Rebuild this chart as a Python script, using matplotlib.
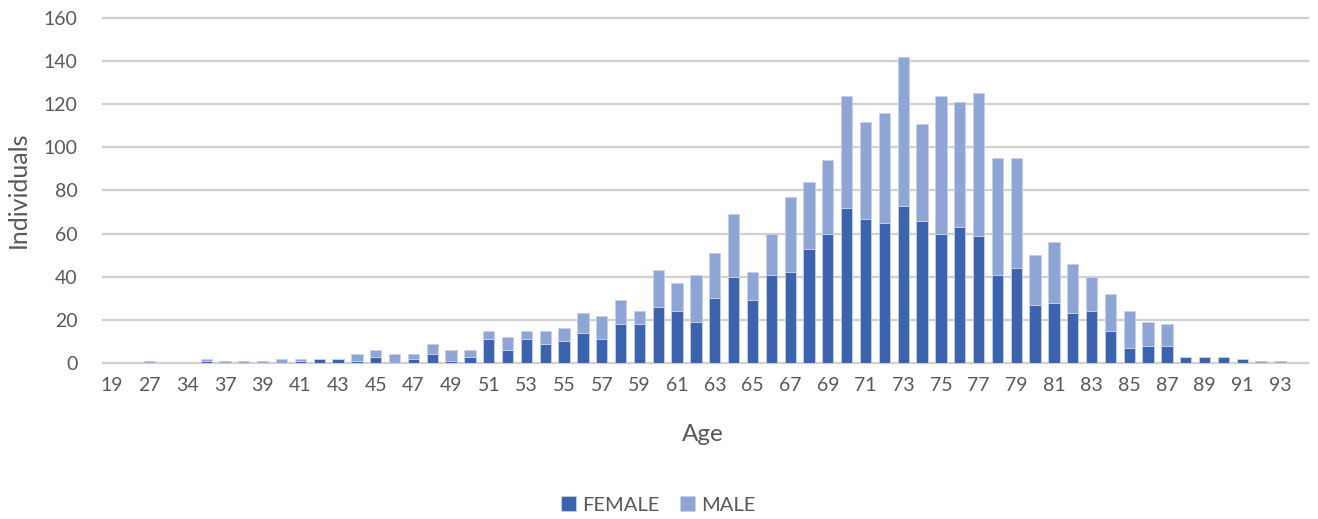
import matplotlib
matplotlib.use("Agg")
import matplotlib.pyplot as plt
import numpy as np

# Age categories (only every other one is labelled on the axis)
ages = [19, 24, 27, 32, 34, 36, 37, 38, 39, 40,
        41, 42, 43, 44, 45, 46, 47, 48, 49, 50,
        51, 52, 53, 54, 55, 56, 57, 58, 59, 60,
        61, 62, 63, 64, 65, 66, 67, 68, 69, 70,
        71, 72, 73, 74, 75, 76, 77, 78, 79, 80,
        81, 82, 83, 84, 85, 86, 87, 88, 89, 90,
        91, 92, 93, 94]

female = [0, 0, 0, 0, 0, 1, 0, 0, 0, 0,
          1, 2, 2, 1, 3, 0, 2, 4, 1, 3,
          11, 6, 11, 9, 10, 14, 11, 18, 18, 26,
          24, 19, 30, 40, 29, 41, 42, 53, 60, 72,
          67, 65, 73, 66, 60, 63, 59, 41, 44, 27,
          28, 23, 24, 15, 7, 8, 8, 3, 3, 3,
          2, 0, 0, 0]

male = [0, 0, 1, 0, 0, 1, 1, 1, 1, 2,
        1, 0, 0, 3, 3, 4, 2, 5, 5, 3,
        4, 6, 4, 6, 6, 9, 11, 11, 6, 17,
        13, 22, 21, 29, 13, 19, 35, 31, 34, 52,
        45, 51, 69, 45, 64, 58, 66, 54, 51, 23,
        28, 23, 16, 17, 17, 11, 10, 0, 0, 0,
        0, 1, 1, 0]

FEMALE_COLOR = "#3C64AE"
MALE_COLOR = "#8EA5D5"
TEXT_COLOR = "#595959"
GRID_COLOR = "#D0D0D0"
EDGE_COLOR = "#C9D1E3"

plt.rcParams["font.family"] = ["Lato", "DejaVu Sans"]

fig = plt.figure(figsize=(13.18, 5.19), dpi=100)
ax = fig.add_axes([0.0778, 0.3006, 0.9148, 0.6647])

x = np.arange(len(ages))
ax.bar(x, female, width=0.6, color=FEMALE_COLOR, edgecolor=EDGE_COLOR,
       linewidth=0.6, label="FEMALE", zorder=3)
ax.bar(x, male, width=0.6, bottom=female, color=MALE_COLOR, edgecolor=EDGE_COLOR,
       linewidth=0.6, label="MALE", zorder=3)

ax.set_xlim(-0.5, len(ages) - 0.5)
ax.set_ylim(0, 160)
ax.set_yticks(range(0, 161, 20))
ax.set_xticks(x[::2])
ax.set_xticklabels([str(a) for a in ages[::2]])

ax.yaxis.grid(True, color=GRID_COLOR, linewidth=1.6)
for gl in ax.get_ygridlines():
    gl.set_clip_on(False)
ax.set_axisbelow(True)
for s in ax.spines.values():
    s.set_visible(False)

ax.tick_params(axis="both", length=0, labelsize=14, colors=TEXT_COLOR)
ax.tick_params(axis="y", pad=18)
ax.tick_params(axis="x", pad=10)

fig.text(0.0135, 0.634, "Individuals", rotation=90, ha="center", va="center",
         fontsize=18, color=TEXT_COLOR)
fig.text(0.5334, 0.162, "Age", ha="center", va="center",
         fontsize=17.5, color=TEXT_COLOR)

fig.legend(loc="center", bbox_to_anchor=(0.4992, 0.027), ncol=2, frameon=False,
           handlelength=0.75, handleheight=0.75, handletextpad=0.3,
           columnspacing=1.0, fontsize=14.5, labelcolor=TEXT_COLOR)

fig.savefig("out.png", dpi=100)
